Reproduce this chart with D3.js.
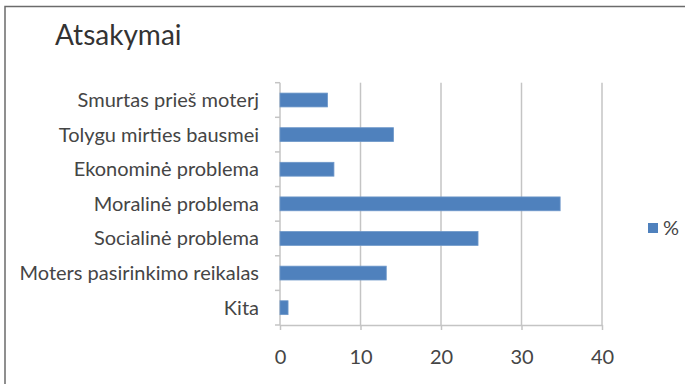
<!DOCTYPE html>
<html>
<head>
<meta charset="utf-8">
<script src="https://cdn.jsdelivr.net/npm/d3@7"></script>
<style>
  html, body { margin: 0; padding: 0; background: #fff; }
  svg { display: block; }
  text { font-family: Lato, "Open Sans", sans-serif; }
</style>
</head>
<body>
<svg id="chart" width="685" height="384"></svg>
<script>
// Survey answers, share of respondents (%)
const categories = [
  "Smurtas prieš moterj",
  "Tolygu mirties bausmei",
  "Ekonominė problema",
  "Moralinė problema",
  "Socialinė problema",
  "Moters pasirinkimo reikalas",
  "Kita"
];
const values = [5.9, 14.1, 6.7, 34.8, 24.6, 13.2, 1.0];
const xTicks = [0, 10, 20, 30, 40];
const seriesName = "%";
const title = "Atsakymai";

const svg = d3.select("#chart");
const W = 685, H = 384;
const labelSize = "20px";

// chart frame
svg.append("rect")
  .attr("x", 5).attr("y", 6.5)
  .attr("width", W + 10).attr("height", H + 10)
  .attr("fill", "#fff")
  .attr("stroke", "#6b6b6b").attr("stroke-width", 1.5);

const plot = { left: 280, right: 602, top: 82.7, bottom: 325 };

const x = d3.scaleLinear().domain([0, 40]).range([plot.left, plot.right]);
const y = d3.scaleBand().domain(categories).range([plot.top, plot.bottom])
  .paddingInner(0.6).paddingOuter(0.3);

// vertical gridlines
svg.append("g").selectAll("line")
  .data(xTicks.filter(d => d > 0))
  .join("line")
  .attr("x1", d => x(d)).attr("x2", d => x(d))
  .attr("y1", plot.top).attr("y2", plot.bottom)
  .attr("stroke", "#c4c4c4").attr("stroke-width", 1.5);

// x axis
const xAxis = svg.append("g")
  .attr("transform", `translate(0,${plot.bottom})`)
  .call(d3.axisBottom(x).tickValues(xTicks).tickSize(5).tickPadding(20).tickSizeOuter(0));
xAxis.select(".domain").attr("stroke", "#c4c4c4").attr("stroke-width", 1.5);
xAxis.selectAll(".tick line").attr("stroke", "#c4c4c4").attr("stroke-width", 1.5);
xAxis.selectAll(".tick text")
  .attr("fill", "#454545").style("font-size", labelSize)
  .style("font-family", "Lato, 'Open Sans', sans-serif");

// y axis: ticks sit on category boundaries
const yAxisG = svg.append("g");
yAxisG.append("line")
  .attr("x1", plot.left).attr("x2", plot.left)
  .attr("y1", plot.top).attr("y2", plot.bottom)
  .attr("stroke", "#c4c4c4").attr("stroke-width", 1.5);
const boundaries = d3.range(categories.length + 1).map(i => plot.top + i * (plot.bottom - plot.top) / categories.length);
yAxisG.selectAll("line.tk")
  .data(boundaries)
  .join("line").attr("class", "tk")
  .attr("x1", plot.left - 5).attr("x2", plot.left)
  .attr("y1", d => d).attr("y2", d => d)
  .attr("stroke", "#c4c4c4").attr("stroke-width", 1.5);

// category labels
svg.append("g").selectAll("text")
  .data(categories)
  .join("text")
  .attr("x", 259)
  .attr("y", d => y(d) + y.bandwidth() / 2)
  .attr("dy", "0.35em")
  .attr("text-anchor", "end")
  .attr("fill", "#454545")
  .style("font-size", labelSize)
  .text(d => d);

// bars
svg.append("g").selectAll("rect")
  .data(categories.map((c, i) => ({ c, v: values[i] })))
  .join("rect")
  .attr("x", x(0))
  .attr("y", d => y(d.c))
  .attr("width", d => x(d.v) - x(0))
  .attr("height", y.bandwidth())
  .attr("fill", "#4f81bd")
  .attr("stroke", "#6d97c9").attr("stroke-width", 0.8);

// title
svg.append("text")
  .attr("x", 55).attr("y", 45)
  .attr("fill", "#333")
  .style("font-size", "28px")
  .text(title);

// legend
const leg = svg.append("g").attr("transform", "translate(648,223)");
leg.append("rect").attr("width", 10).attr("height", 10).attr("fill", "#4f81bd");
leg.append("text").attr("x", 15).attr("y", 5).attr("dy", "0.35em")
  .attr("fill", "#454545").style("font-size", labelSize).text(seriesName);
</script>
</body>
</html>
